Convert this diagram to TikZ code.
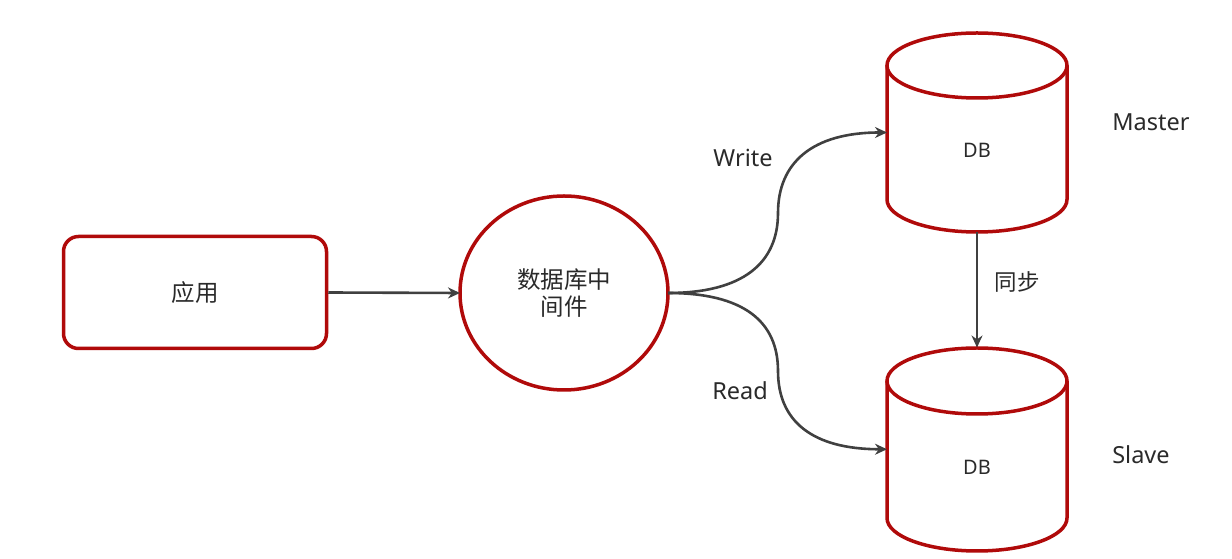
\documentclass[tikz,border=0pt]{standalone}
\usepackage{fontspec}
\setmainfont{Noto Sans}
\newfontfamily\cjk{Noto Sans CJK SC}
\usetikzlibrary{arrows.meta}
\definecolor{dbred}{HTML}{B00A0A}
\definecolor{linegray}{HTML}{404040}
\definecolor{txtgray}{HTML}{2A2A2A}
\begin{document}
\begin{tikzpicture}[x=1pt,y=1pt,
  redbox/.style={draw=dbred, line width=3.5pt, rounded corners=15pt, fill=white},
  redell/.style={draw=dbred, line width=3.5pt, fill=white},
  conn/.style={draw=linegray, line width=2.6pt, -{Stealth[length=12pt,width=11pt]}},
  cjktxt/.style={text=txtgray, font=\cjk\fontsize{23.5}{27}\selectfont, align=center, inner sep=0pt},
  lattxt/.style={text=txtgray, font=\fontsize{23.5}{27}\selectfont, inner sep=0pt},
  dbtxt/.style={text=txtgray, font=\fontsize{20}{23}\selectfont, inner sep=0pt},
  hull/.style={minimum width=180pt, inner sep=0pt, outer sep=0pt}
]
\useasboundingbox (0,0) rectangle (1232,559);
\fill[white] (0,0) rectangle (1232,559);

% application box
\node[redbox, minimum width=263pt, minimum height=112pt, inner sep=0pt] (app) at (195,266.5) {};
\node[cjktxt] (apptxt) at (app.center) {应用};

% middleware ellipse
\draw[redell] (564,266) ellipse [x radius=104, y radius=97];
\coordinate (mwwest) at (460,266);
\coordinate (mweast) at (668,266);
\node[cjktxt] (mwtxt) at (564,265.5) {数据库中\\间件};

% master cylinder
\draw[redell] (887,493.5) -- (887,359.5) arc[start angle=180, end angle=360, x radius=90, y radius=32.5] -- (1067,493.5);
\draw[redell] (977,493.5) ellipse [x radius=90, y radius=32.5];
\node[hull, minimum height=199pt] (master) at (977,426.5) {};
\node[dbtxt] (mdb) at (977,409) {DB};

% slave cylinder
\draw[redell] (887,178) -- (887,41) arc[start angle=180, end angle=360, x radius=90, y radius=33] -- (1067,178);
\draw[redell] (977,178) ellipse [x radius=90, y radius=33];
\node[hull, minimum height=203.5pt] (slave) at (977,109.75) {};
\node[dbtxt] (sdb) at (977,92) {DB};

% connectors
\draw[conn] (app.east) -- (mwwest);
\coordinate (wmid) at (778,346);
\coordinate (rmid) at (778,188);
\draw[conn] (mweast) .. controls +(75,0) and +(0,-50) .. (wmid) .. controls +(0,50) and +(-75,0) .. (master.west);
\draw[conn] (mweast) .. controls +(75,0) and +(0,50) .. (rmid) .. controls +(0,-50) and +(-75,0) .. (slave.west);
\draw[conn] (master.south) -- (slave.north);

% labels
\node[lattxt] (wlab) at (743,401) {Write};
\node[lattxt] (rlab) at (740,168) {Read};
\node[lattxt] (mlab) at (1151,437) {Master};
\node[lattxt] (slab) at (1141,104) {Slave};
\node[cjktxt, font=\cjk\fontsize{22.5}{26}\selectfont] (sync) at (1017,277) {同步};
\end{tikzpicture}
\end{document}
